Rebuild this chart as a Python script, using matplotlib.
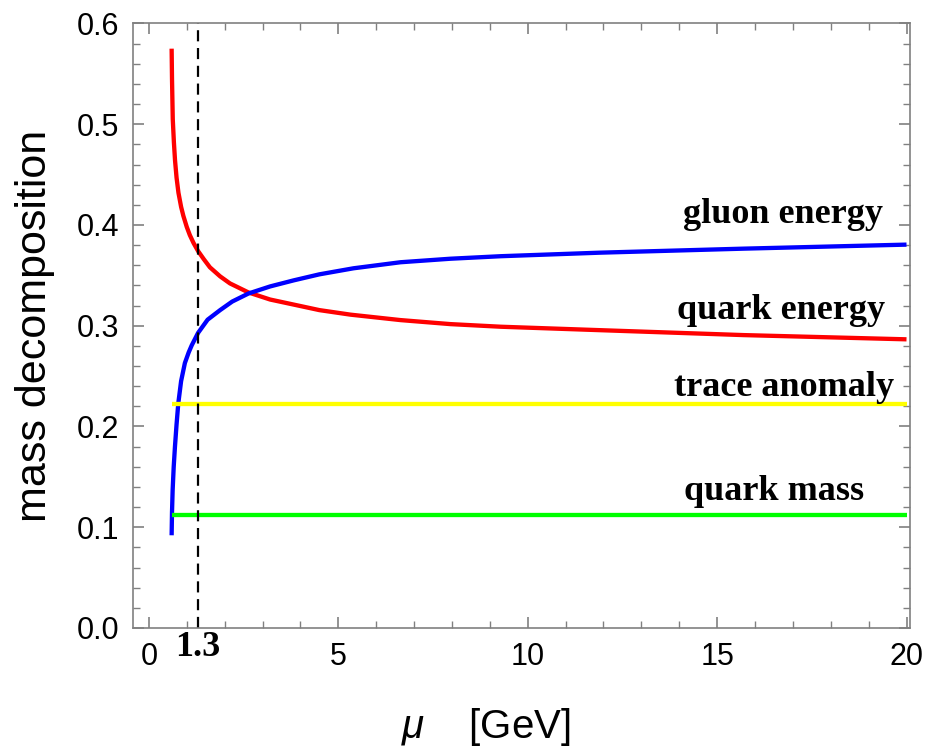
import matplotlib
matplotlib.use("Agg")
import matplotlib.pyplot as plt
from matplotlib.ticker import MultipleLocator

plt.rcParams['font.family'] = ['Liberation Sans', 'DejaVu Sans']
plt.rcParams['mathtext.fontset'] = 'custom'
plt.rcParams['mathtext.it'] = 'Liberation Sans:italic'
plt.rcParams['mathtext.rm'] = 'Liberation Sans'

# values
mu_q = [0.60, 0.61, 0.63, 0.66, 0.69, 0.73, 0.78, 0.85, 0.91, 1.00, 1.08,
        1.18, 1.30, 1.45, 1.61, 1.88, 2.14, 2.63, 3.20, 3.82, 4.50, 5.32,
        6.64, 7.96, 9.29, 11.9, 15.7, 20.0]
quark_energy = [0.575, 0.545, 0.505, 0.482, 0.464, 0.447, 0.432, 0.418,
                0.409, 0.398, 0.390, 0.382, 0.374, 0.366, 0.358, 0.349,
                0.342, 0.333, 0.326, 0.321, 0.3155, 0.311, 0.3056, 0.3016,
                0.299, 0.2956, 0.2907, 0.2865]
mu_g = [0.60, 0.61, 0.627, 0.655, 0.688, 0.73, 0.776, 0.85, 0.95, 1.05,
        1.13, 1.30, 1.55, 1.88, 2.20, 2.63, 3.20, 3.82, 4.50, 5.40, 6.64,
        7.96, 9.29, 11.9, 15.7, 20.0]
gluon_energy = [0.092, 0.115, 0.137, 0.160, 0.180, 0.202, 0.223, 0.245,
                0.263, 0.2735, 0.2805, 0.293, 0.306, 0.3155, 0.324, 0.332,
                0.339, 0.345, 0.351, 0.357, 0.363, 0.3665, 0.369, 0.3725,
                0.3765, 0.3805]
mu_flat = [0.6, 20.0]
trace_anomaly = [0.222, 0.222]
quark_mass = [0.112, 0.112]
mu_c = 1.3

labels = ["gluon energy", "quark energy", "trace anomaly", "quark mass"]
label_x = [16.75, 16.7, 16.77, 16.5]
label_y = [0.402, 0.307, 0.230, 0.127]

fig = plt.figure(figsize=(9.3, 7.5), dpi=100)
ax = fig.add_axes([0.143, 0.1627, 0.835, 0.806])

ax.plot(mu_q, quark_energy, color='#ff0000', lw=3.1, solid_capstyle='butt',
        solid_joinstyle='round')
ax.plot(mu_g, gluon_energy, color='#0000ff', lw=3.1, solid_capstyle='butt',
        solid_joinstyle='round')
ax.plot(mu_flat, trace_anomaly, color='#ffff00', lw=3.1, solid_capstyle='butt')
ax.plot(mu_flat, quark_mass, color='#00ff00', lw=3.1, solid_capstyle='butt')
ax.axvline(mu_c, color='black', lw=1.6, dashes=(5, 3))

for t, x, y in zip(labels, label_x, label_y):
    ax.text(x, y, t, ha='center', va='baseline', fontsize=26,
            family='Liberation Serif', fontweight='bold')

ax.text(mu_c, -0.019, "1.3", ha='center', va='center', fontsize=26,
        family='Liberation Serif', fontweight='bold', clip_on=False)

ax.set_xlim(-0.42, 20.08)
ax.set_ylim(0, 0.6)
ax.xaxis.set_major_locator(MultipleLocator(5))
ax.xaxis.set_minor_locator(MultipleLocator(1))
ax.yaxis.set_major_locator(MultipleLocator(0.1))
ax.yaxis.set_minor_locator(MultipleLocator(0.02))
ax.yaxis.set_major_formatter(plt.FormatStrFormatter('%.1f'))

gray = '#808080'
for s in ax.spines.values():
    s.set_color(gray)
    s.set_linewidth(1.2)
ax.tick_params(which='both', direction='in', top=True, right=True,
               color=gray, labelsize=22, pad=10)
ax.tick_params(which='major', length=8, width=1.2)
ax.tick_params(which='minor', length=5, width=1)

ax.set_ylabel("mass decomposition", fontsize=31, va='center')
ax.yaxis.set_label_coords(-0.126, 0.5)
ax.set_xlabel(r"$\mu$    [GeV]", fontsize=29, va='center')
ax.xaxis.set_label_coords(0.454, -0.164)

fig.savefig("out.png", dpi=100)
